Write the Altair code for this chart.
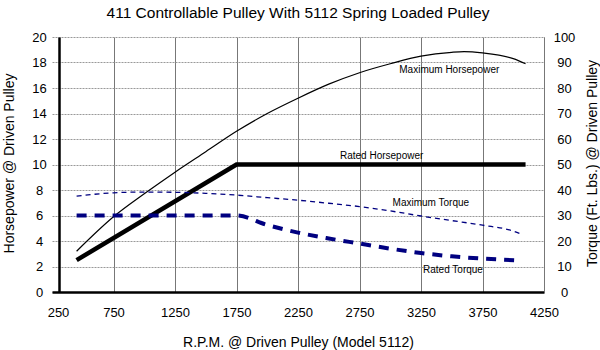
import altair as alt
import pandas as pd

# ---- data ----
rpm_max_hp = [450, 750, 1000, 1250, 1500, 1750, 2000, 2250, 2500, 2750, 3000, 3250, 3500, 3600, 3750, 4000, 4100]
max_hp = [3.2, 5.9, 7.7, 9.4, 11.0, 12.6, 14.0, 15.2, 16.3, 17.2, 17.9, 18.5, 18.8, 18.85, 18.75, 18.3, 17.9]

rpm_rated_hp = [450, 1750, 4100]
rated_hp = [2.5, 10, 10]

rpm_max_tq = [450, 750, 1000, 1250, 1500, 1750, 2000, 2250, 2500, 2750, 3000, 3250, 3500, 3750, 4000, 4075]
max_tq = [37.6, 38.9, 39.2, 39.1, 38.7, 38.0, 37.0, 36.0, 34.8, 33.5, 31.8, 29.8, 28.0, 26.2, 23.9, 22.5]

rpm_rated_tq = [450, 1750, 2000, 2250, 2500, 2750, 3000, 3250, 3500, 3750, 4040]
rated_tq = [30, 30, 26.3, 23.3, 21.0, 19.0, 17.0, 15.3, 14.0, 13.1, 12.4]

label_text = ["Maximum Horsepower", "Rated Horsepower", "Maximum Torque", "Rated Torque"]
label_rpm = [3480, 2930, 3330, 3510]
label_hp = [17.4, 10.7, 7.0, 1.75]

x_ticks = [250, 750, 1250, 1750, 2250, 2750, 3250, 3750, 4250]
hp_ticks = [0, 2, 4, 6, 8, 10, 12, 14, 16, 18, 20]
tq_ticks = [0, 10, 20, 30, 40, 50, 60, 70, 80, 90, 100]

title_text = "411 Controllable Pulley With 5112 Spring Loaded Pulley"
x_title = "R.P.M. @ Driven Pulley (Model 5112)"
hp_title = "Horsepower @ Driven Pulley"
tq_title = "Torque (Ft. Lbs.) @ Driven Pulley"

FONT = "Liberation Sans"
NAVY = "#000080"

df_mhp = pd.DataFrame({"rpm": rpm_max_hp, "v": max_hp})
df_rhp = pd.DataFrame({"rpm": rpm_rated_hp, "v": rated_hp})
df_mtq = pd.DataFrame({"rpm": rpm_max_tq, "v": max_tq})
df_rtq = pd.DataFrame({"rpm": rpm_rated_tq, "v": rated_tq})
df_lab = pd.DataFrame({"rpm": label_rpm, "v": label_hp, "t": label_text})

x_axis = alt.Axis(
    values=x_ticks, format="d", title=x_title, grid=True, gridColor="#777", gridWidth=1,
    gridOpacity={"condition": {"test": "datum.value === 250", "value": 0}, "value": 1},
    labelOffset={"condition": {"test": "datum.value === 250", "value": 6}, "value": 0},
    domainColor="black", domainWidth=2.5, ticks=False, tickSize=0,
    labelPadding=14, labelFontSize=13, labelFont=FONT, labelColor="black",
    labelFlush=False, labelOverlap=False,
    titleFont=FONT, titleFontSize=14, titleFontWeight="normal", titleColor="black",
    titleY=54, titleBaseline="alphabetic",
)
X = alt.X("rpm:Q", scale=alt.Scale(domain=[250, 4250], nice=False, zero=False), axis=x_axis)

hp_scale = alt.Scale(domain=[0, 20], nice=False)
tq_scale = alt.Scale(domain=[0, 100], nice=False)

left_axis = alt.Axis(
    values=hp_ticks, orient="left", title=hp_title, grid=True, gridColor="#999",
    gridDash=[2, 1], gridWidth=1, domainColor="black", domainWidth=2.5,
    ticks=False, tickSize=0, offset=-7, labelAlign="center", labelPadding=20,
    labelFontSize=13, labelFont=FONT, labelColor="black", labelFlush=False,
    titleFont=FONT, titleFontSize=14, titleFontWeight="normal", titleColor="black",
    titleAngle=270, titleBaseline="bottom", titleAlign="center", titleX=-43, titleY=126,
)
right_axis = alt.Axis(
    values=tq_ticks, orient="right", title=tq_title, grid=False,
    domainColor="#777", domainWidth=1, ticks=False, tickSize=0,
    labelAlign="center", labelPadding=20, labelFontSize=13, labelFont=FONT,
    labelColor="black", labelFlush=False,
    titleFont=FONT, titleFontSize=14, titleFontWeight="normal", titleColor="black",
    titleAngle=270, titleBaseline="bottom", titleAlign="center", titleX=55, titleY=126,
)

max_hp_line = alt.Chart(df_mhp).mark_line(color="black", strokeWidth=1.2, interpolate="monotone").encode(
    x=X, y=alt.Y("v:Q", scale=hp_scale, axis=left_axis)
)
rated_hp_line = alt.Chart(df_rhp).mark_line(color="black", strokeWidth=4.5).encode(
    x=X, y=alt.Y("v:Q", scale=hp_scale, axis=None)
)
max_tq_line = alt.Chart(df_mtq).mark_line(color=NAVY, strokeWidth=1.3, strokeDash=[5, 4], interpolate="monotone").encode(
    x=X, y=alt.Y("v:Q", scale=tq_scale, axis=right_axis)
)
rated_tq_line = alt.Chart(df_rtq).mark_line(color=NAVY, strokeWidth=4, strokeDash=[10, 8], interpolate="monotone").encode(
    x=X, y=alt.Y("v:Q", scale=tq_scale, axis=None)
)
labels = alt.Chart(df_lab).mark_text(font=FONT, fontSize=10, color="black", align="center", baseline="middle").encode(
    x=X, y=alt.Y("v:Q", scale=hp_scale, axis=None), text="t:N"
)

chart = alt.layer(
    max_hp_line, rated_hp_line, max_tq_line, rated_tq_line, labels
).resolve_scale(y="independent").properties(
    width=492, height=255,
    title=alt.TitleParams(title_text, font=FONT, fontSize=15.5, fontWeight="normal",
                          color="black", anchor="middle", offset=10),
    autosize=alt.AutoSizeParams(type="none"),
    padding={"left": 52, "top": 37, "right": 56, "bottom": 58},
    background="white",
).configure_view(stroke=None)

chart.save("out.html", embed_options={"renderer": "svg", "actions": False})
